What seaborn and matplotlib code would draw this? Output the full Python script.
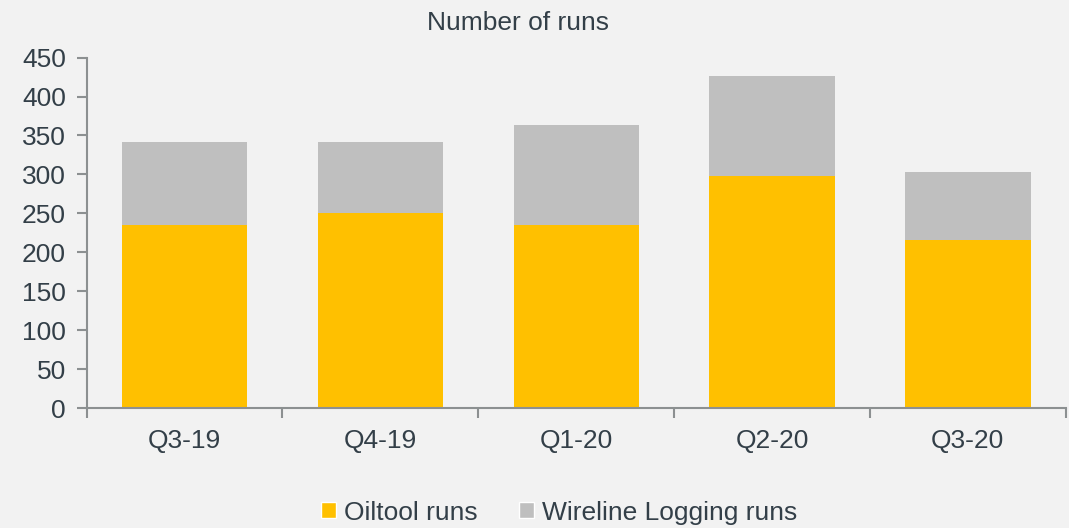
import matplotlib
matplotlib.use("Agg")
import matplotlib.pyplot as plt
import seaborn as sns
import pandas as pd
from matplotlib.patches import Patch

# Data
quarters = ["Q3-19", "Q4-19", "Q1-20", "Q2-20", "Q3-20"]
oiltool_runs = [235, 251, 235, 298, 216]
wireline_runs = [106, 90, 128, 128, 87]
y_ticks = [0, 50, 100, 150, 200, 250, 300, 350, 400, 450]

YELLOW = "#FFC000"
GREY = "#BFBFBF"
BG = "#F2F2F2"
TEXT = "#333F48"
AXIS = "#8C9091"
FS = 19

sns.set_theme(style="white")
plt.rcParams["font.family"] = ["Liberation Sans", "DejaVu Sans"]
plt.rcParams["text.color"] = TEXT

df = pd.DataFrame({"Quarter": quarters, "Oiltool": oiltool_runs, "Wireline": wireline_runs})
df["Total"] = df["Oiltool"] + df["Wireline"]

fig = plt.figure(figsize=(10.69, 5.28), dpi=100, facecolor=BG)
ax = fig.add_axes([0.081, 0.227, 0.916, 0.664])
ax.set_facecolor(BG)

# stacked look: total in grey behind, oiltool in yellow in front
sns.barplot(data=df, x="Quarter", y="Total", color=GREY, width=0.64,
            saturation=1, linewidth=0, ax=ax)
sns.barplot(data=df, x="Quarter", y="Oiltool", color=YELLOW, width=0.64,
            saturation=1, linewidth=0, ax=ax)

ax.set_xlim(-0.5, len(quarters) - 0.5)
ax.set_ylim(0, 450)
ax.set_yticks(y_ticks)
ax.set_xlabel("")
ax.set_ylabel("")

for s in ["top", "right"]:
    ax.spines[s].set_visible(False)
for s in ["left", "bottom"]:
    ax.spines[s].set_color(AXIS)
    ax.spines[s].set_linewidth(1.5)
    ax.spines[s].set_visible(True)

ax.tick_params(axis="y", length=7, width=1.5, colors=AXIS, labelcolor=TEXT,
               labelsize=FS, pad=8, left=True)
ax.tick_params(axis="x", which="major", length=0, labelcolor=TEXT,
               labelsize=FS, pad=15)
ax.set_xticks([i - 0.5 for i in range(len(quarters) + 1)], minor=True)
ax.tick_params(axis="x", which="minor", length=7, width=1.5, colors=AXIS,
               bottom=True, direction="out")

fig.text(0.4845, 0.956, "Number of runs", ha="center", va="center",
         fontsize=FS, color=TEXT)

handles = [Patch(facecolor=YELLOW, label="Oiltool runs"),
           Patch(facecolor=GREY, label="Wireline Logging runs")]
leg = fig.legend(handles=handles, loc="center", bbox_to_anchor=(0.523, 0.029),
                 ncol=2, frameon=False, fontsize=FS, handlelength=0.55,
                 handleheight=0.55, handletextpad=0.3, columnspacing=1.6)
for t in leg.get_texts():
    t.set_color(TEXT)

fig.savefig("out.png", dpi=100, facecolor=BG)
